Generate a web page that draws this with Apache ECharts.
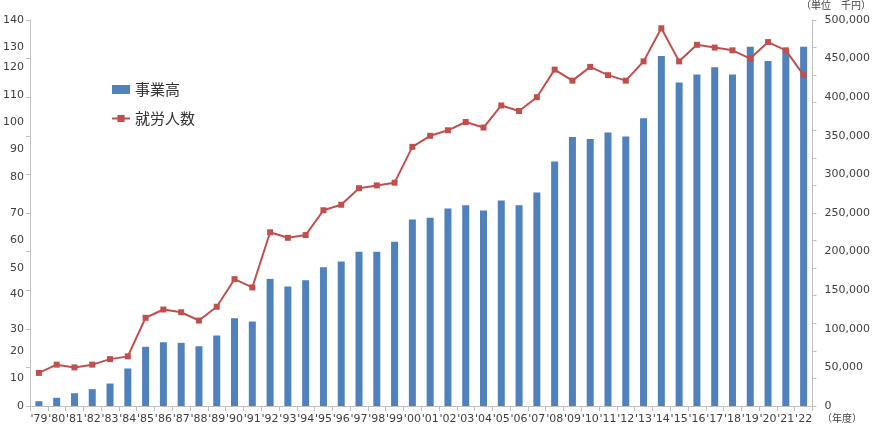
<!DOCTYPE html>
<html>
<head>
<meta charset="utf-8">
<script src="https://cdn.jsdelivr.net/npm/echarts@6/dist/echarts.min.js"></script>
<style>
  html, body { margin: 0; padding: 0; background: #fff; }
  #chart { width: 873px; height: 428px; }
</style>
</head>
<body>
<div id="chart"></div>
<script>
// 年度
const years = ["'79","'80","'81","'82","'83","'84","'85","'86","'87","'88","'89","'90","'91","'92","'93","'94",
  "'95","'96","'97","'98","'99","'00","'01","'02","'03","'04","'05","'06","'07","'08","'09","'10",
  "'11","'12","'13","'14","'15","'16","'17","'18","'19","'20","'21","'22"];

// 事業高 (千円)
const sales = [6200, 10600, 16600, 21800, 29100, 48600, 76700, 82600, 81800, 77400, 91300, 113700, 109400,
  164700, 154800, 162900, 179700, 187100, 199700, 199700, 212600, 241500, 243700, 255800, 260000, 253200,
  266100, 260000, 276500, 316600, 348600, 346000, 354200, 349000, 372700, 453500, 418900, 429300, 438700,
  429300, 465500, 447000, 461700, 465500];

// 就労人数
const workers = [12, 15, 14, 15, 17, 18, 32, 35, 34, 31, 36, 46, 43, 63, 61, 62, 71, 73, 79, 80, 81, 94, 98,
  100, 103, 101, 109, 107, 112, 122, 118, 123, 120, 118, 125, 137, 125, 131, 130, 129, 126, 132, 129, 120];

const leftMax = 140, leftStep = 10;
const rightMax = 500000, rightStep = 50000;

// 左軸ラベルは元図で少しずれて置かれている (上方向 px)
const leftLabelShift = { 120: 8, 110: 8, 100: 8, 90: 9, 80: 8, 40: 2, 30: -6 };

const labelColor = "#404040";
const axisColor = "#bfbfbf";
const font = "'DejaVu Sans', Verdana, sans-serif";

const chart = echarts.init(document.getElementById("chart"));

const shiftRich = {};
Object.values(leftLabelShift).forEach(s => {
  const key = "s" + (s < 0 ? "m" + (-s) : s);
  shiftRich[key] = s > 0
    ? { padding: [0, 0, 2 * s, 0], fontSize: 11, color: labelColor }
    : { padding: [-2 * s, 0, 0, 0], fontSize: 11, color: labelColor };
});

const option = {
  animation: false,
  textStyle: { fontFamily: font },
  grid: { left: 30, right: 57, top: 20, bottom: 22, containLabel: false },
  legend: {
    orient: "vertical",
    left: 106,
    top: 77,
    itemGap: 14,
    itemWidth: 18,
    itemHeight: 9,
    textStyle: { fontSize: 15, color: "#333", fontFamily: "'Noto Sans CJK JP', sans-serif" },
    data: [
      { name: "事業高", icon: "rect" },
      { name: "就労人数" }
    ]
  },
  xAxis: {
    type: "category",
    data: years,
    boundaryGap: true,
    axisLine: { lineStyle: { color: axisColor, width: 1 } },
    axisTick: { show: true, alignWithLabel: false, length: 5, lineStyle: { color: axisColor } },
    axisLabel: { color: labelColor, fontSize: 11, interval: 0, margin: 8 },
    splitLine: { show: false }
  },
  yAxis: [
    {
      // 就労人数 (左)
      type: "value",
      position: "left",
      min: 0, max: leftMax, interval: leftStep,
      axisLine: { show: true, lineStyle: { color: axisColor } },
      axisTick: { show: false },
      axisLabel: {
        color: labelColor, fontSize: 11, margin: 6,
        formatter: v => {
          const s = leftLabelShift[v];
          if (!s) return String(v);
          return "{s" + (s < 0 ? "m" + (-s) : s) + "|" + v + "}";
        },
        rich: shiftRich
      },
      splitLine: { show: false }
    },
    {
      // 事業高 (右)
      type: "value",
      position: "right",
      min: 0, max: rightMax, interval: rightStep,
      axisLine: { show: true, lineStyle: { color: axisColor } },
      axisTick: { show: false },
      axisLabel: {
        color: labelColor, fontSize: 11, margin: 12,
        formatter: v => v.toLocaleString("en-US")
      },
      splitLine: { show: false }
    },
    {
      // 左目盛り線
      type: "value",
      position: "left",
      min: 0, max: rightMax, interval: rightStep,
      axisLine: { show: false },
      axisTick: { show: true, length: 4, lineStyle: { color: axisColor } },
      axisLabel: { show: false },
      splitLine: { show: false }
    },
    {
      // 右目盛り線
      type: "value",
      position: "right",
      min: 0, max: leftMax, interval: leftStep,
      axisLine: { show: false },
      axisTick: { show: true, length: 4, lineStyle: { color: axisColor } },
      axisLabel: { show: false },
      splitLine: { show: false }
    }
  ],
  series: [
    {
      name: "事業高",
      type: "bar",
      yAxisIndex: 1,
      data: sales,
      barWidth: 7,
      itemStyle: { color: "#4f81bd" },
      z: 2
    },
    {
      name: "就労人数",
      type: "line",
      yAxisIndex: 0,
      data: workers,
      symbol: "rect",
      symbolSize: 6,
      lineStyle: { color: "#c0504d", width: 2 },
      itemStyle: { color: "#c0504d" },
      z: 3
    }
  ],
  graphic: [
    {
      type: "text",
      right: 2,
      top: 0,
      style: { text: "（単位　千円）", fontSize: 10, fill: labelColor, fontFamily: "'Noto Sans CJK JP', sans-serif" }
    },
    {
      type: "text",
      left: 822,
      top: 413,
      style: { text: "（年度）", fontSize: 10, fill: labelColor, fontFamily: "'Noto Sans CJK JP', sans-serif" }
    }
  ]
};

chart.setOption(option);
</script>
</body>
</html>
